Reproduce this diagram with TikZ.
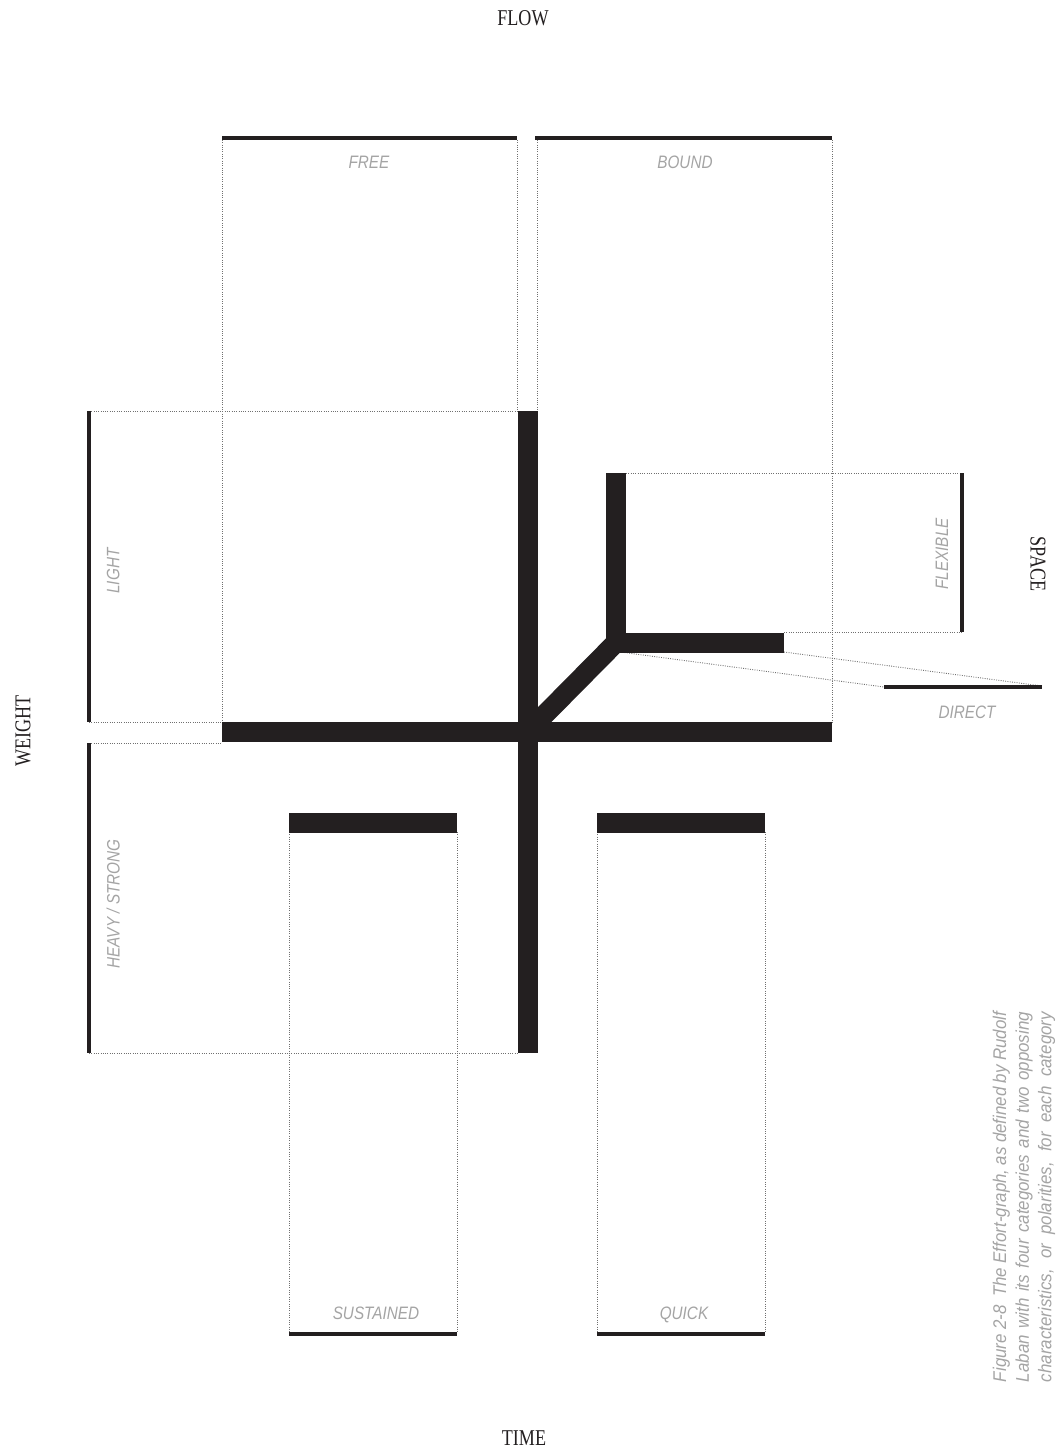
\documentclass[tikz,border=0pt]{standalone}
\usepackage{fontspec}
\newfontfamily\labfont{Liberation Sans}[FakeStretch=0.85]
\newfontfamily\capfont{Liberation Sans}[FakeStretch=0.92]
\newfontfamily\axfont{Liberation Serif}[FakeStretch=0.8]
\definecolor{barblack}{HTML}{231F20}
\definecolor{labgray}{HTML}{A4A4A4}
\definecolor{dotgray}{HTML}{707070}
\tikzset{
  thickbar/.style={line width=10pt, draw=barblack, line cap=butt, line join=miter},
  thinbar/.style={line width=2pt, draw=barblack, line cap=butt},
  dotline/.style={line width=0.45pt, draw=dotgray, dash pattern=on 0.45pt off 0.7pt},
  lab/.style={text=labgray, font={\labfont\itshape\fontsize{9}{10}\selectfont}, inner sep=0pt, text depth=0pt},
  axis/.style={text=barblack, font={\axfont\fontsize{11.3}{12}\selectfont}, inner sep=0pt},
  captext/.style={text=labgray, font={\capfont\itshape\fontsize{9.2}{11.3}\selectfont}, inner sep=0pt, align=left}
}
\begin{document}
\begin{tikzpicture}[x=0.5pt,y=-0.5pt]
\useasboundingbox (0,0) rectangle (1061,1454);
% coordinates
\coordinate (fA) at (222,140); \coordinate (fB) at (222,722);
\coordinate (fC) at (517,140); \coordinate (fD) at (517,411);
\coordinate (bA) at (537,140); \coordinate (bB) at (537,411);
\coordinate (bC) at (832,140); \coordinate (bD) at (832,722);
\coordinate (lA) at (89,411);  \coordinate (lB) at (517,411);
\coordinate (lC) at (89,722);  \coordinate (lD) at (222,722);
\coordinate (hA) at (89,743);  \coordinate (hB) at (222,743);
\coordinate (hC) at (89,1053); \coordinate (hD) at (518,1053);
\coordinate (xA) at (626,473); \coordinate (xB) at (962,473);
\coordinate (xC) at (784,632); \coordinate (xD) at (962,632);
\coordinate (dA) at (784,652); \coordinate (dB) at (1042,686);
\coordinate (dC) at (620,652); \coordinate (dD) at (884,687);
\coordinate (sA) at (289,832); \coordinate (sB) at (289,1333);
\coordinate (sC) at (457,832); \coordinate (sD) at (457,1333);
\coordinate (qA) at (597,832); \coordinate (qB) at (597,1333);
\coordinate (qC) at (765,832); \coordinate (qD) at (765,1333);
% dotted guide lines
\draw[dotline] (fA) -- (fB); \draw[dotline] (fC) -- (fD);
\draw[dotline] (bA) -- (bB); \draw[dotline] (bC) -- (bD);
\draw[dotline] (lA) -- (lB); \draw[dotline] (lC) -- (lD);
\draw[dotline] (hA) -- (hB); \draw[dotline] (hC) -- (hD);
\draw[dotline] (xA) -- (xB); \draw[dotline] (xC) -- (xD);
\draw[dotline] (dA) -- (dB); \draw[dotline] (dC) -- (dD);
\draw[dotline] (sA) -- (sB); \draw[dotline] (sC) -- (sD);
\draw[dotline] (qA) -- (qB); \draw[dotline] (qC) -- (qD);
% thin bars
\draw[thinbar] (222,138) -- (517,138);
\draw[thinbar] (535,138) -- (832,138);
\draw[thinbar] (89,411) -- (89,722);
\draw[thinbar] (89,743) -- (89,1053);
\draw[thinbar] (962,473) -- (962,632);
\draw[thinbar] (884,687) -- (1042,687);
\draw[thinbar] (289,1334) -- (457,1334);
\draw[thinbar] (597,1334) -- (765,1334);
% thick bars
\coordinate (ctr) at (527.5,732);
\coordinate (corner) at (616,642.5);
\draw[thickbar] (222,732) -- (832,732);
\draw[thickbar] (527.5,411) -- (527.5,1053);
\draw[thickbar] (ctr) -- (corner);
\draw[thickbar] (616,473) -- (corner) -- (784,642.5);
\draw[thickbar] (289,822.5) -- (457,822.5);
\draw[thickbar] (597,822.5) -- (765,822.5);
% axis labels
\node[axis] (flow) at (523,18) {FLOW};
\node[axis] (time) at (524,1438) {TIME};
\node[axis, rotate=90] (weight) at (23,731) {WEIGHT};
\node[axis, rotate=-90] (space) at (1038,564) {SPACE};
% polarity labels
\node[lab] (free) at (369,162) {FREE};
\node[lab] (bound) at (685,162) {BOUND};
\node[lab, rotate=90] (light) at (113,571) {LIGHT};
\node[lab, rotate=90] (heavy) at (113,904) {HEAVY / STRONG};
\node[lab, rotate=90] (flex) at (942,554) {FLEXIBLE};
\node[lab] (direct) at (967,712) {DIRECT};
\node[lab] (sust) at (376,1313) {SUSTAINED};
\node[lab] (quick) at (684,1313) {QUICK};
% caption
\node[captext, rotate=90] (cap) at (1024,1197) {%
\makebox[185pt][s]{Figure 2-8\ \ The Effort-graph, as defined by Rudolf}\\
\makebox[185pt][s]{Laban with its four categories and two opposing}\\
\makebox[185pt][s]{characteristics, or polarities, for each category}};
\end{tikzpicture}
\end{document}
